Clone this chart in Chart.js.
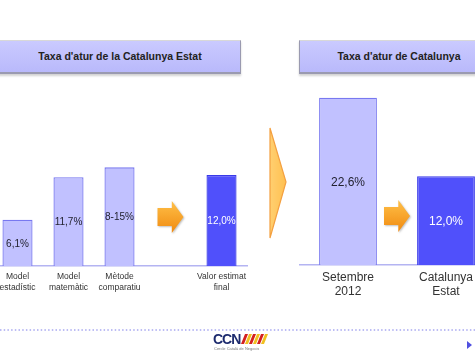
<!DOCTYPE html>
<html>
<head>
<meta charset="utf-8">
<script src="https://cdn.jsdelivr.net/npm/chart.js@4/dist/chart.umd.min.js"></script>
<style>
  html, body { margin: 0; padding: 0; }
  body { width: 475px; height: 352px; overflow: hidden; position: relative; background: #fff;
         font-family: "Liberation Sans", Arial, sans-serif; }
  .hdr { position: absolute; top: 40px; height: 31px; background: linear-gradient(#cacaff, #b9b9fb);
         border-top: 1px solid #d8d8d8; border-bottom: 2px solid #9a9ab0;
         box-shadow: 0 2px 2px rgba(0,0,0,0.18); font-weight: bold; font-size: 10.5px; color: #222;
         line-height: 31px; }
  .hdr span { position: absolute; white-space: nowrap; transform: translateX(-50%); }
  #hdrLeft { left: -2px; width: 242px; border-right: 1px solid #9a9ab0; }
  #hdrRight { left: 299px; width: 190px; border-left: 1px solid #9a9ab0; }
  canvas { position: absolute; }
  #leftChart { left: -8px; top: 140px; }
  #rightChart { left: 299px; top: 80px; }
  #chevron, #footer { position: absolute; left: 0; top: 0; }
</style>
</head>
<body>
<div class="hdr" id="hdrLeft"><span style="left:122px">Taxa d'atur de la Catalunya Estat</span></div>
<div class="hdr" id="hdrRight"><span style="left:99px">Taxa d'atur de Catalunya</span></div>

<canvas id="leftChart" width="260" height="166"></canvas>
<canvas id="rightChart" width="196" height="230"></canvas>

<svg id="chevron" width="475" height="352">
  <defs>
    <linearGradient id="chev" x1="0" y1="0" x2="1" y2="0">
      <stop offset="0" stop-color="#ffcf70"/>
      <stop offset="1" stop-color="#ffc050"/>
    </linearGradient>
  </defs>
  <polygon points="270,128 286,182 270,238" fill="url(#chev)" stroke="#f4a040" stroke-width="1.2"/>
</svg>

<svg id="footer" width="475" height="352">
  <line x1="0" y1="330" x2="475" y2="330" stroke="#a8a8f0" stroke-width="1.3" stroke-dasharray="1.5,2.2"/>
  <text x="213" y="344" font-family="Liberation Sans, Arial" font-weight="bold" font-size="14" fill="#1d2b6e" letter-spacing="-1">CCN</text>
  <polygon points="245,334 248,334 244,344 241,344" fill="#d42020"/>
  <polygon points="249,334 252,334 248,344 245,344" fill="#f0c020"/>
  <polygon points="253,334 256,334 252,344 249,344" fill="#d42020"/>
  <polygon points="257,334 260,334 256,344 253,344" fill="#f0c020"/>
  <polygon points="261,334 264,334 260,344 257,344" fill="#d42020"/>
  <polygon points="265,334 268,334 264,344 261,344" fill="#f0c020"/>
  <text x="214" y="350" font-family="Liberation Sans, Arial" font-size="4" fill="#777">Cercle Català de Negocis</text>
  <polygon points="467,341 472,345 467,349" fill="#5050e0"/>
</svg>

<script>
// left panel: estimation methods
const leftLabels = [['Model', 'estadístic'], ['Model', 'matemàtic'], ['Mètode', 'comparatiu'], '', ['Valor estimat', 'final']];
const leftValues = [6.1, 11.7, 13, null, 12.0];
const leftTexts = ['6,1%', '11,7%', '8-15%', '', '12,0%'];

// right panel: real vs estimated
const rightLabels = [['Setembre', '2012'], ['Catalunya', 'Estat']];
const rightValues = [22.6, 12.0];
const rightTexts = ['22,6%', '12,0%'];

const lightFill = '#c1c1ff';
const lightBorder = '#7878f0';
const darkFill = '#5050fb';
const darkBorder = '#3a3ae8';

function drawArrow(ctx, x0, yc, w, h) {
  ctx.save();
  ctx.shadowColor = 'rgba(0,0,0,0.25)';
  ctx.shadowOffsetX = 1;
  ctx.shadowOffsetY = 1;
  ctx.shadowBlur = 2;
  const g = ctx.createLinearGradient(0, yc - h / 2, 0, yc + h / 2);
  g.addColorStop(0, '#ffc048');
  g.addColorStop(1, '#f08a10');
  ctx.fillStyle = g;
  const bx = x0 + w * 0.55, bh = h * 0.28;
  ctx.beginPath();
  ctx.moveTo(x0, yc - bh);
  ctx.lineTo(bx, yc - bh);
  ctx.lineTo(bx, yc - h / 2);
  ctx.lineTo(x0 + w, yc);
  ctx.lineTo(bx, yc + h / 2);
  ctx.lineTo(bx, yc + bh);
  ctx.lineTo(x0, yc + bh);
  ctx.closePath();
  ctx.fill();
  ctx.restore();
}

// value texts in the middle of each bar + orange arrows
const barDecor = {
  id: 'barDecor',
  afterDatasetsDraw(chart, args, opts) {
    const ctx = chart.ctx;
    const meta = chart.getDatasetMeta(0);
    ctx.save();
    ctx.font = opts.size + 'px "Liberation Sans", Arial, sans-serif';
    ctx.textAlign = 'center';
    ctx.textBaseline = 'middle';
    meta.data.forEach((bar, i) => {
      if (!opts.texts[i]) return;
      ctx.fillStyle = opts.dark.includes(i) ? '#ffffff' : '#222230';
      ctx.fillText(opts.texts[i], bar.x, (bar.y + bar.base) / 2 + 1);
    });
    ctx.restore();
    const xs = chart.scales.x;
    const cx = opts.arrowAt.length === 1
      ? xs.getPixelForValue(opts.arrowAt[0])
      : (xs.getPixelForValue(opts.arrowAt[0]) + xs.getPixelForValue(opts.arrowAt[1])) / 2;
    drawArrow(ctx, cx - 13, chart.chartArea.bottom - 49, 26, 32);
  }
};

function makeChart(id, labels, values, texts, dark, max, fontSize, tickSize, lineH, arrowAt) {
  return new Chart(document.getElementById(id), {
    type: 'bar',
    data: {
      labels: labels,
      datasets: [{
        data: values,
        backgroundColor: values.map((v, i) => dark.includes(i) ? darkFill : lightFill),
        borderColor: values.map((v, i) => dark.includes(i) ? darkBorder : lightBorder),
        borderWidth: 1.3,
        barPercentage: 0.59,
        categoryPercentage: 1
      }]
    },
    options: {
      responsive: false,
      animation: false,
      layout: { padding: 0 },
      plugins: {
        legend: { display: false },
        tooltip: { enabled: false },
        barDecor: { texts: texts, dark: dark, size: fontSize, arrowAt: arrowAt }
      },
      scales: {
        x: {
          grid: { display: false, drawTicks: false },
          border: { color: '#b4b4f2', width: 1.5 },
          ticks: { color: '#333', padding: 6, maxRotation: 0, autoSkip: false,
                   font: { size: tickSize, family: '"Liberation Sans", Arial, sans-serif', lineHeight: lineH } },
          afterFit(scale) { scale.height = id === 'leftChart' ? 40 : 45; }
        },
        y: { display: false, min: 0, max: max }
      }
    },
    plugins: [barDecor]
  });
}

makeChart('leftChart', leftLabels, leftValues, leftTexts, [4], 16.6, 10, 8.5, 1.2, [3]);
makeChart('rightChart', rightLabels, rightValues, rightTexts, [1], 25, 12, 12, 1.15, [0, 1]);
</script>
</body>
</html>
